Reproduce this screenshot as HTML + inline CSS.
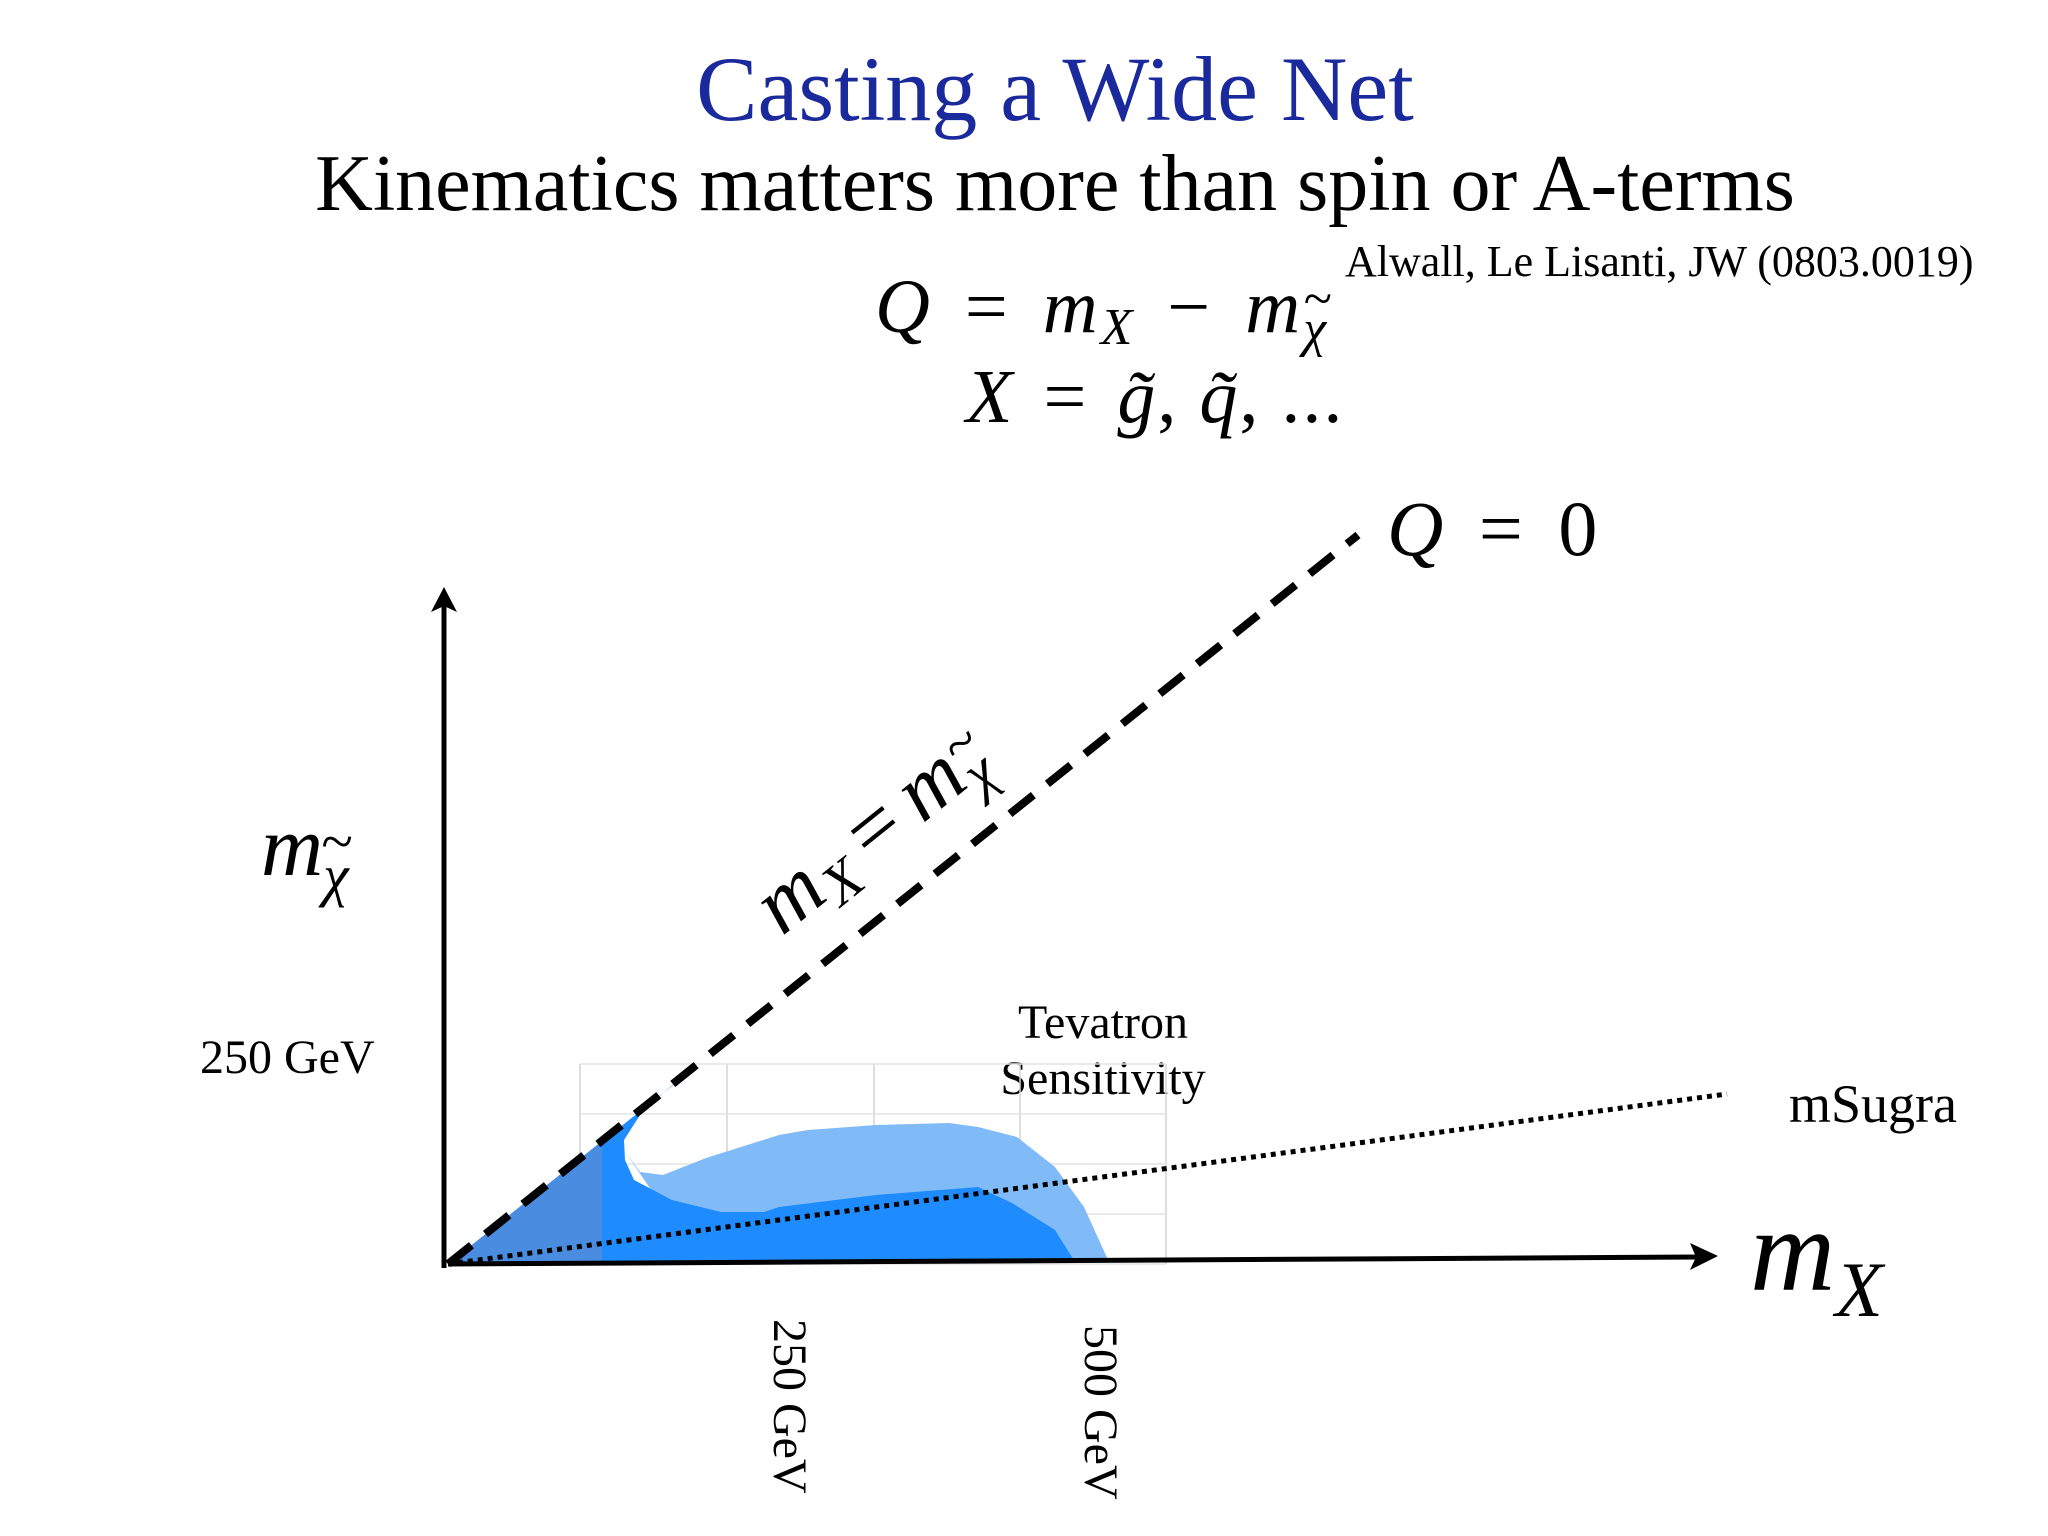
<!DOCTYPE html>
<html><head><meta charset="utf-8"><style>
html,body{margin:0;padding:0;background:#fff}
svg{display:block}
text{font-family:"Liberation Serif",serif}
.it{font-style:italic}
</style></head><body>
<svg id="c" width="2048" height="1536" viewBox="0 0 2048 1536">
<text x="1055" y="120" font-size="92" fill="#1a2a9c" text-anchor="middle">Casting a Wide Net</text>
<text x="1055" y="210" font-size="80" fill="#000" text-anchor="middle">Kinematics matters more than spin or A-terms</text>
<text x="1345" y="276" font-size="44" fill="#000">Alwall, Le Lisanti, JW (0803.0019)</text>
<text x="875" y="332" font-size="76" letter-spacing="3"><tspan class="it">Q</tspan> <tspan dx="10">=</tspan> <tspan dx="10" class="it">m</tspan><tspan class="it" font-size="52" dy="12">X</tspan><tspan dy="-12" dx="10"> − </tspan><tspan dx="10" class="it">m</tspan><tspan class="it" font-size="52" dy="14">χ</tspan><tspan class="it" font-size="52" dx="-26" dy="-30">~</tspan></text>
<text x="966" y="422" font-size="76" letter-spacing="2"><tspan class="it">X</tspan> <tspan dx="8">=</tspan> <tspan dx="8" class="it">g̃</tspan>, <tspan class="it">q̃</tspan>, ...</text>
<text x="1387" y="555" font-size="78" letter-spacing="3"><tspan class="it">Q</tspan> <tspan dx="10">=</tspan> <tspan dx="10">0</tspan></text>
<text x="261" y="875" font-size="86" class="it">m<tspan font-size="58" dy="20">χ</tspan><tspan font-size="58" dx="-28" dy="-34">~</tspan></text>
<text x="1750" y="1290" font-size="118" class="it">m<tspan font-size="78" dy="26">X</tspan></text>
<text x="200" y="1073" font-size="48">250 GeV</text>
<text x="1103" y="1038" font-size="48" text-anchor="middle">Tevatron</text>
<text x="1103" y="1094" font-size="48" text-anchor="middle">Sensitivity</text>
<text x="1789" y="1122" font-size="54">mSugra</text>
<text transform="translate(774,1319) rotate(90)" font-size="48">250 GeV</text>
<text transform="translate(1085,1325) rotate(90)" font-size="48">500 GeV</text>
<text transform="translate(890,850) rotate(-38.7)" font-size="86" class="it" text-anchor="middle" letter-spacing="2">m<tspan font-size="58" dy="14">X</tspan><tspan dy="-14" dx="14" font-style="normal">=</tspan><tspan dx="14">m</tspan><tspan font-size="58" dy="14">χ</tspan><tspan font-size="58" dx="-28" dy="-34">~</tspan></text>
<g id="plot"></g>
</svg>
<script>
// Region boundaries as (mX offset, mChi offset) in plot units relative to origin
const brightRegionX = [0,249,242,215,192,176,177,186,224,273,316,331,428,530,564,607,627,0];
const brightRegionY = [0,198,194,171,149,124,104,84,64,52,52,57,69,77,61,34,2,0];
const lightRegionX = [176,192,215,258,331,360,428,501,530,569,607,636,661,252];
const lightRegionY = [114,92,89,106,129,134,139,141,137,127,97,57,2,2];
const mutedRegionX = [0,154,154];
const mutedRegionY = [0,123,0];
const gridX = [132,279,426,572,718];
const gridY = [0,50,100,150,200];
const ox=448, oy=1264;
function sx(v){return ox+v;}
function sy(v){return oy-v;}
const NS="http://www.w3.org/2000/svg";
const g=document.getElementById('plot');
function mk(tag,attrs){const e=document.createElementNS(NS,tag);for(const k in attrs)e.setAttribute(k,attrs[k]);g.appendChild(e);return e;}
function pts(xs,ys){return xs.map((x,i)=>sx(x)+','+sy(ys[i])).join(' ');}
gridX.forEach((x,i)=>{const l=mk('line',{x1:sx(x),y1:sy(0),x2:sx(x),y2:sy(200),stroke:'#d4d4d4','stroke-width':1.5});

});
gridY.forEach((y,i)=>{const l=mk('line',{x1:sx(132),y1:sy(y),x2:sx(718),y2:sy(y),stroke:'#e4e4e4','stroke-width':1.5});

});
let p=mk('polygon',{points:pts(lightRegionX,lightRegionY),fill:'#80bbf8'});


p=mk('polygon',{points:pts(brightRegionX,brightRegionY),fill:'#1e8cff'});


p=mk('polygon',{points:pts(mutedRegionX,mutedRegionY),fill:'#4a8de0'});


let l=mk('line',{x1:sx(0),y1:sy(0),x2:1358,y2:535,stroke:'#000','stroke-width':8,'stroke-dasharray':'30 18'});


l=mk('line',{x1:sx(0),y1:sy(0),x2:1727,y2:1094,stroke:'#000','stroke-width':5,'stroke-dasharray':'5 5'});


l=mk('line',{x1:sx(0),y1:sy(0),x2:1700,y2:1257,stroke:'#000','stroke-width':5});


let a=mk('polygon',{points:'1718,1256 1690,1243 1696,1257 1690,1270',fill:'#000'});


l=mk('line',{x1:444,y1:1268,x2:444,y2:605,stroke:'#000','stroke-width':5});


a=mk('polygon',{points:'444,587 431,612 444,606 457,612',fill:'#000'});


</script>
</body></html>
